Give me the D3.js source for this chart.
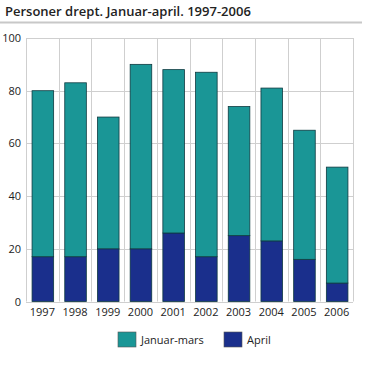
<!DOCTYPE html>
<html>
<head>
<meta charset="utf-8">
<script src="https://cdn.jsdelivr.net/npm/d3@7"></script>
<style>
  body { margin: 0; background: #fff; }
  svg { display: block; font-family: "Open Sans", sans-serif; }
</style>
</head>
<body>
<svg id="chart" width="365" height="365"></svg>
<script>
const years = ['1997', '1998', '1999', '2000', '2001', '2002', '2003', '2004', '2005', '2006'];
const januarMars = [63, 66, 50, 70, 62, 70, 49, 58, 49, 44];
const april = [17, 17, 20, 20, 26, 17, 25, 23, 16, 7];
const yTicks = [0, 20, 40, 60, 80, 100];
const seriesNames = ['Januar-mars', 'April'];
const colors = ['#1a9696', '#1a2f8c'];

const svg = d3.select('#chart');
const margin = {left: 26, right: 12, top: 38, bottom: 63};
const width = 365, height = 365;

// title
svg.append('text')
  .attr('x', 5).attr('y', 16)
  .attr('font-size', 13).attr('font-weight', 600)
  .attr('fill', '#222')
  .text('Personer drept. Januar-april. 1997-2006');
svg.append('line')
  .attr('x1', 0).attr('x2', 362).attr('y1', 22.5).attr('y2', 22.5)
  .attr('stroke', '#c8c8c8').attr('stroke-width', 2);

const x = d3.scaleBand()
  .domain(years)
  .range([margin.left, width - margin.right])
  .paddingInner(0.34).paddingOuter(0.17);

const y = d3.scaleLinear()
  .domain([0, 100])
  .range([height - margin.bottom - 0.5, margin.top]);

// grid
const step = x.step();
const bandEdges = d3.range(years.length + 1).map(i => margin.left + i * step);
svg.append('g').selectAll('line')
  .data(bandEdges)
  .join('line')
  .attr('x1', d => Math.round(d) + 0.5).attr('x2', d => Math.round(d) + 0.5)
  .attr('y1', margin.top).attr('y2', y(0))
  .attr('stroke', '#cfcfcf');
svg.append('g').selectAll('line')
  .data(yTicks)
  .join('line')
  .attr('x1', margin.left).attr('x2', width - margin.right)
  .attr('y1', d => Math.round(y(d)) + 0.5).attr('y2', d => Math.round(y(d)) + 0.5)
  .attr('stroke', '#cfcfcf');

// stacked bars
const rows = years.map((yr, i) => ({year: yr, 'April': april[i], 'Januar-mars': januarMars[i]}));
const stack = d3.stack().keys(['April', 'Januar-mars'])(rows);

svg.append('g').selectAll('g')
  .data(stack)
  .join('g')
  .attr('fill', d => colors[seriesNames.indexOf(d.key)])
  .selectAll('rect')
  .data(d => d)
  .join('rect')
  .attr('x', d => x(d.data.year) + 0.5)
  .attr('y', d => y(d[1]))
  .attr('width', x.bandwidth())
  .attr('height', d => y(d[0]) - y(d[1]))
  .attr('stroke', '#0f3a40')
  .attr('stroke-width', 0.8);

// axes
const yAxis = d3.axisLeft(y).tickValues(yTicks).tickSize(0).tickPadding(5);
svg.append('g')
  .attr('transform', `translate(${margin.left},0)`)
  .call(yAxis)
  .call(g => g.select('.domain').remove())
  .call(g => g.selectAll('text').attr('font-size', 11).attr('fill', '#222').attr('font-family', '"Open Sans", sans-serif'));

const xAxis = d3.axisBottom(x).tickSize(0).tickPadding(7);
svg.append('g')
  .attr('transform', `translate(0,${y(0)})`)
  .call(xAxis)
  .call(g => g.select('.domain').remove())
  .call(g => g.selectAll('text').attr('font-size', 11).attr('fill', '#222').attr('font-family', '"Open Sans", sans-serif'));

// legend
const legendX = [118, 224];
const legend = svg.append('g').selectAll('g')
  .data(seriesNames)
  .join('g')
  .attr('transform', (d, i) => `translate(${legendX[i]},332)`);
legend.append('rect')
  .attr('width', 18).attr('height', 15)
  .attr('fill', (d, i) => colors[i])
  .attr('stroke', '#555').attr('stroke-width', 0.6);
legend.append('text')
  .attr('x', 23).attr('y', 12)
  .attr('font-size', 11).attr('fill', '#222')
  .text(d => d);
</script>
</body>
</html>
